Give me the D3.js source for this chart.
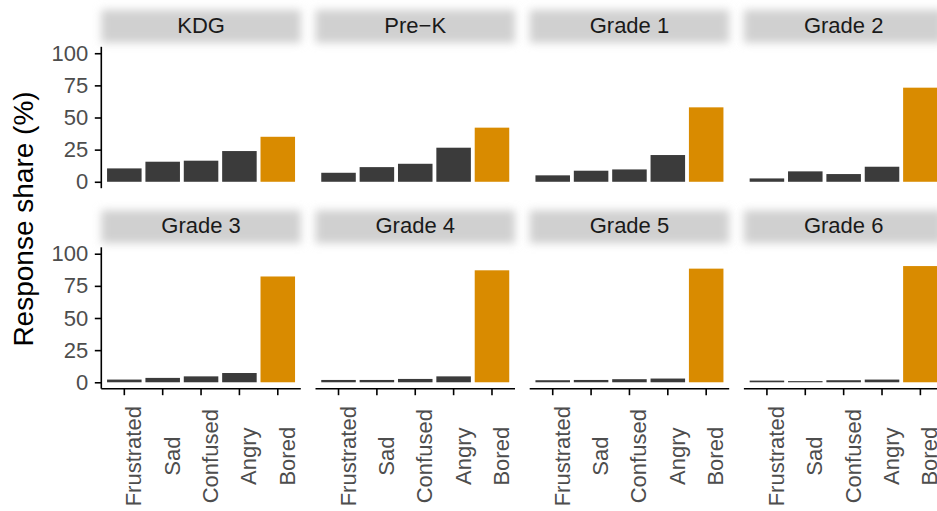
<!DOCTYPE html>
<html>
<head>
<meta charset="utf-8">
<script src="https://cdn.jsdelivr.net/npm/d3@7"></script>
<style>
  body { margin: 0; background: #fff; }
  svg { display: block; font-family: "Liberation Sans", Arial, sans-serif; }
</style>
</head>
<body>
<script>
// categories
var emotions = ["Frustrated", "Sad", "Confused", "Angry", "Bored"];
var grades = ["KDG", "Pre\u2212K", "Grade 1", "Grade 2", "Grade 3", "Grade 4", "Grade 5", "Grade 6"];

// response share (%) per grade, in emotion order
var kdg    = [10.4, 15.6, 16.4, 23.9, 35.0];
var preK   = [7.0, 11.4, 14.0, 26.5, 42.1];
var grade1 = [5.0, 8.6, 9.6, 20.8, 57.9];
var grade2 = [2.6, 8.1, 6.0, 11.7, 73.2];
var grade3 = [2.1, 3.4, 4.6, 7.2, 82.3];
var grade4 = [1.8, 1.8, 2.6, 4.6, 87.1];
var grade5 = [1.6, 1.8, 2.4, 2.9, 88.4];
var grade6 = [1.3, 0.9, 1.6, 2.1, 90.4];
var shares = [kdg, preK, grade1, grade2, grade3, grade4, grade5, grade6];

var yTicks = [0, 25, 50, 75, 100];
var highlight = "Bored";

var width = 937, height = 511;
var panelLeft = 101.3, panelStep = 214.2, panelW = 199.5;
var rowTop = [46.8, 247.3], panelH = 141.4;

var svg = d3.select("body").append("svg")
    .attr("width", width)
    .attr("height", height);

// strips in the reference look soft-edged, so blur them a bit
var defs = svg.append("defs");
defs.append("filter").attr("id", "soft")
    .attr("filterUnits", "userSpaceOnUse")
    .attr("x", 0).attr("y", 0).attr("width", width).attr("height", height)
    .append("feGaussianBlur").attr("stdDeviation", 4.5);

var x = d3.scaleBand().domain(emotions).range([0, panelW])
    .paddingInner(0.1).paddingOuter(0.15);

grades.forEach(function (g, i) {
    var col = i % 4, row = Math.floor(i / 4);
    var px = panelLeft + col * panelStep, py = rowTop[row];
    var y = d3.scaleLinear().domain([-5, 105]).range([panelH, 0]);

    // strip
    svg.append("rect")
        .attr("x", px).attr("y", py - 37)
        .attr("width", panelW).attr("height", 33)
        .attr("fill", "#d0d0d0")
        .attr("filter", "url(#soft)");
    svg.append("text")
        .attr("x", px + panelW / 2).attr("y", py - 22)
        .attr("dy", "0.35em")
        .attr("text-anchor", "middle")
        .attr("font-size", 22)
        .attr("fill", "#1a1a1a")
        .text(g);

    var panel = svg.append("g").attr("transform", "translate(" + px + "," + py + ")");

    panel.selectAll("rect.bar")
        .data(emotions.map(function (e, k) { return { e: e, v: shares[i][k] }; }))
        .enter().append("rect")
        .attr("class", "bar")
        .attr("x", function (d) { return x(d.e); })
        .attr("width", x.bandwidth())
        .attr("y", function (d) { return y(d.v); })
        .attr("height", function (d) { return y(0) - y(d.v); })
        .attr("fill", function (d) { return d.e === highlight ? "#d98b00" : "#3b3b3b"; });

    if (col === 0) {
        var yAxis = panel.append("g")
            .call(d3.axisLeft(y).tickValues(yTicks).tickSize(6.5).tickPadding(6.5).tickFormat(d3.format("d")));
        yAxis.select(".domain").attr("d", "M0,0V" + panelH).attr("stroke", "#000").attr("stroke-width", 1.6);
        yAxis.selectAll(".tick line").attr("stroke", "#000").attr("stroke-width", 1.6);
        yAxis.selectAll(".tick text").attr("font-size", 22).attr("fill", "#4d4d4d")
            .attr("font-family", "Liberation Sans, Arial, sans-serif");
    }

    if (row === 1) {
        var xAxis = panel.append("g").attr("transform", "translate(0," + panelH + ")")
            .call(d3.axisBottom(x).tickSize(6.5).tickFormat(""));
        xAxis.select(".domain").attr("d", "M0,0H" + panelW).attr("stroke", "#000").attr("stroke-width", 1.6);
        xAxis.selectAll(".tick line").attr("stroke", "#000").attr("stroke-width", 1.6);

        xAxis.selectAll("text.lab")
            .data(emotions)
            .enter().append("text")
            .attr("class", "lab")
            .attr("transform", function (d) {
                return "translate(" + (x(d) + x.bandwidth() / 2 + 17) + ",67.5) rotate(-90)";
            })
            .attr("text-anchor", "middle")
            .attr("font-size", 22)
            .attr("fill", "#4d4d4d")
            .text(function (d) { return d; });
    }
});

svg.append("text")
    .attr("transform", "translate(33,219) rotate(-90)")
    .attr("text-anchor", "middle")
    .attr("font-size", 28)
    .attr("fill", "#000")
    .text("Response share (%)");
</script>
</body>
</html>
